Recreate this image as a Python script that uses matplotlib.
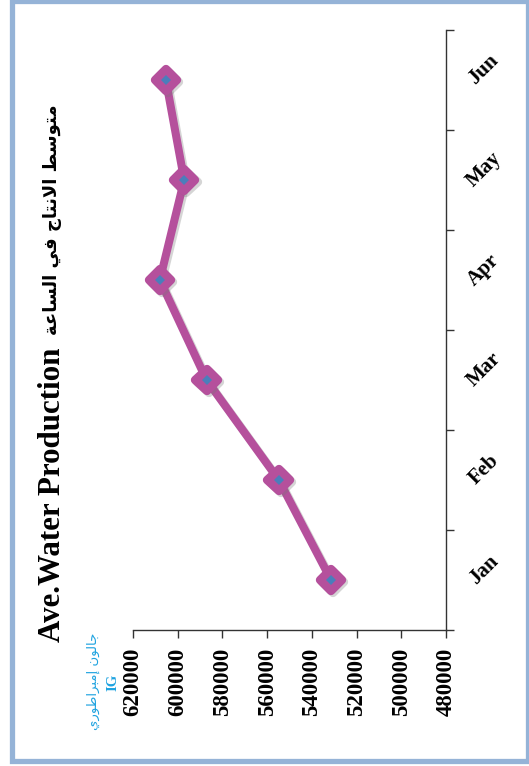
import matplotlib
matplotlib.use("Agg")
import matplotlib.pyplot as plt
import matplotlib.patheffects as pe
import matplotlib.transforms as mtransforms
from matplotlib.markers import MarkerStyle
from matplotlib.patches import Rectangle

months = ['Jan', 'Feb', 'Mar', 'Apr', 'May', 'Jun']
production = [531400, 554800, 587100, 608000, 597100, 605300]
value_ticks = [620000, 600000, 580000, 560000, 540000, 520000, 500000, 480000]

title_en = 'Ave.Water Production'
title_ar = 'متوسط الانتاج في الساعة'
unit_ar = 'جالون إمبراطوري'
unit_en = 'IG'

# Arabic presentation forms: isolated, final, initial, medial
FORMS = {
    'ا': ('\uFE8D', '\uFE8E', None, None),
    'إ': ('\uFE87', '\uFE88', None, None),
    'ب': ('\uFE8F', '\uFE90', '\uFE91', '\uFE92'),
    'ة': ('\uFE93', '\uFE94', None, None),
    'ت': ('\uFE95', '\uFE96', '\uFE97', '\uFE98'),
    'ج': ('\uFE9D', '\uFE9E', '\uFE9F', '\uFEA0'),
    'ر': ('\uFEAD', '\uFEAE', None, None),
    'س': ('\uFEB1', '\uFEB2', '\uFEB3', '\uFEB4'),
    'ط': ('\uFEC1', '\uFEC2', '\uFEC3', '\uFEC4'),
    'ع': ('\uFEC9', '\uFECA', '\uFECB', '\uFECC'),
    'ف': ('\uFED1', '\uFED2', '\uFED3', '\uFED4'),
    'ل': ('\uFEDD', '\uFEDE', '\uFEDF', '\uFEE0'),
    'م': ('\uFEE1', '\uFEE2', '\uFEE3', '\uFEE4'),
    'ن': ('\uFEE5', '\uFEE6', '\uFEE7', '\uFEE8'),
    'و': ('\uFEED', '\uFEEE', None, None),
    'ي': ('\uFEF1', '\uFEF2', '\uFEF3', '\uFEF4'),
}
LAM_ALEF = {'ا': ('\uFEFB', '\uFEFC'), 'إ': ('\uFEF9', '\uFEFA')}


def shape_arabic(text):
    """Very small reshaper so matplotlib shows joined, right-to-left Arabic."""
    def joins_next(c):
        return c in FORMS and FORMS[c][2] is not None

    res = []
    i = 0
    n = len(text)
    while i < n:
        c = text[i]
        if c not in FORMS:
            res.append(c)
            i += 1
            continue
        join_prev = i > 0 and joins_next(text[i - 1])
        if c == 'ل' and i + 1 < n and text[i + 1] in LAM_ALEF:
            iso, fin = LAM_ALEF[text[i + 1]]
            res.append(fin if join_prev else iso)
            i += 2
            continue
        join_next = joins_next(c) and i + 1 < n and text[i + 1] in FORMS
        iso, fin, ini, med = FORMS[c]
        if join_prev and join_next:
            res.append(med)
        elif join_prev:
            res.append(fin)
        elif join_next:
            res.append(ini)
        else:
            res.append(iso)
        i += 1
    return ''.join(reversed(res))


serif = 'Liberation Serif'
axis_col = '#333333'
line_col = '#B5509C'
dot_col = '#4A7EBB'
unit_col = '#1FA3E0'

fig = plt.figure(figsize=(5.29, 7.66), dpi=100)

# light blue frame (partly cut off at the top and right, like the reference)
W, H = 529, 766
frame = Rectangle((12 / W, 1 - 761 / H), (528 - 12) / W, (761 - 1) / H,
                  transform=fig.transFigure, facecolor='none', edgecolor='#95B3D7',
                  linewidth=3.8, zorder=-1)
fig.patches.append(frame)

ax = fig.add_axes([133 / W, 1 - 630 / H, (446 - 133) / W, 600 / H])
ax.set_facecolor('none')

# chart is drawn rotated: months run up the right axis, values along the bottom
y_pos = [i + 0.5 for i in range(len(months))]
diamond = MarkerStyle('D', joinstyle='round')
line, = ax.plot(production, y_pos, color=line_col, linewidth=5.8, solid_joinstyle='round',
                marker=diamond, markersize=11.5, markerfacecolor=line_col,
                markeredgecolor=line_col, markeredgewidth=6, zorder=3)
line.set_path_effects([pe.SimpleLineShadow(offset=(1.5, -1.5), shadow_color='#777777', alpha=0.3),
                       pe.Normal()])
ax.plot(production, y_pos, linestyle='none', marker='D', markersize=5,
        markerfacecolor=dot_col, markeredgewidth=0, zorder=4)

ax.set_xlim(620000, 480000)
ax.set_ylim(0, 6)

for side in ['top', 'left']:
    ax.spines[side].set_visible(False)
for side in ['bottom', 'right']:
    ax.spines[side].set_color(axis_col)
    ax.spines[side].set_linewidth(1.0)

ax.set_xticks(value_ticks)
ax.set_xticklabels([str(v) for v in value_ticks], rotation=90, fontfamily=serif,
                   fontweight='bold', fontsize=16.5)
ax.tick_params(axis='x', direction='out', length=6, width=1, color=axis_col, pad=7)

ax.yaxis.tick_right()
ax.set_yticks(range(len(months) + 1))
ax.set_yticklabels([])
ax.tick_params(axis='y', direction='out', length=6, width=1, color=axis_col)

# month labels sit between the category ticks, tilted 45 degrees
lab_trans = mtransforms.blended_transform_factory(ax.transAxes, ax.transData)
for pos, m in zip(y_pos, months):
    ax.text(1.12, pos + 0.1, m, transform=lab_trans, rotation=45, ha='center', va='center',
            fontfamily=serif, fontweight='bold', fontsize=15, clip_on=False)

# titles, written sideways like the reference
fig.text(0.0983, 0.3538, title_en, rotation=90, ha='center', va='center',
         fontfamily=serif, fontweight='bold', fontsize=22.3)
fig.text(0.0983, 0.7128, shape_arabic(title_ar), rotation=90, ha='center', va='center',
         fontfamily='DejaVu Sans', fontweight='bold', fontsize=13)
fig.text(0.1758, 0.111, shape_arabic(unit_ar), rotation=90, ha='center', va='center',
         fontfamily='DejaVu Sans', fontsize=9.5, color=unit_col)
fig.text(0.2136, 0.1097, unit_en, rotation=90, ha='center', va='center',
         fontfamily=serif, fontweight='bold', fontsize=10.5, color=unit_col)

fig.savefig('out.png', dpi=100)
